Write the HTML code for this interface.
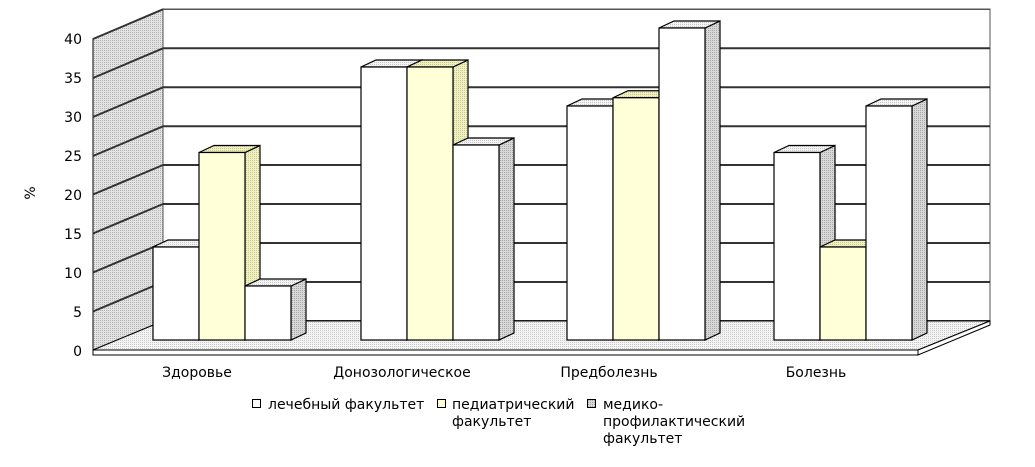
<!DOCTYPE html>
<html><head><meta charset="utf-8"><style>
html,body{margin:0;padding:0;background:#fff}
svg{display:block}
text{font-family:"DejaVu Sans","Liberation Sans",sans-serif;font-size:14px;fill:#000}
</style></head><body>
<svg width="1035" height="467" viewBox="0 0 1035 467" xmlns="http://www.w3.org/2000/svg">
<defs>
<pattern id="hg" width="2" height="2" patternUnits="userSpaceOnUse"><rect width="2" height="2" fill="#e4e4e4"/><rect width="1" height="1" fill="#b0b0b0"/></pattern>
<pattern id="hf" width="2" height="2" patternUnits="userSpaceOnUse"><rect width="2" height="2" fill="#f4f4f4"/><rect width="1" height="1" fill="#c8c8c8"/></pattern>
<pattern id="hs" width="2" height="2" patternUnits="userSpaceOnUse"><rect width="2" height="2" fill="#d8d8d8"/><rect width="1" height="1" fill="#a8a8a8"/></pattern>
<pattern id="hy" width="2" height="2" patternUnits="userSpaceOnUse"><rect width="2" height="2" fill="#f0f0c0"/><rect width="1" height="1" fill="#c8c890"/></pattern>
</defs>
<polygon points="93,39 163,9 163,321 93,350" fill="url(#hg)" stroke="#000" stroke-width="1"/>
<rect x="163" y="9" width="827" height="312" fill="#fff" stroke="#555" stroke-width="1"/>
<g stroke="#333" stroke-width="2">
<line x1="93" y1="39" x2="163" y2="9.3"/><line x1="163" y1="9.3" x2="990" y2="9.3" stroke="#555" stroke-width="1.5"/>
<line x1="93" y1="78" x2="163" y2="48.3"/><line x1="163" y1="48.3" x2="990" y2="48.3"/>
<line x1="93" y1="117" x2="163" y2="87.3"/><line x1="163" y1="87.3" x2="990" y2="87.3"/>
<line x1="93" y1="156" x2="163" y2="126.3"/><line x1="163" y1="126.3" x2="990" y2="126.3"/>
<line x1="93" y1="194.5" x2="163" y2="165"/><line x1="163" y1="165" x2="990" y2="165"/>
<line x1="93" y1="233.5" x2="163" y2="204"/><line x1="163" y1="204" x2="990" y2="204"/>
<line x1="93" y1="272.5" x2="163" y2="243"/><line x1="163" y1="243" x2="990" y2="243"/>
<line x1="93" y1="311.5" x2="163" y2="282"/><line x1="163" y1="282" x2="990" y2="282"/>
<line x1="163" y1="321" x2="990" y2="321"/>
</g>
<polygon points="93,350 163,321 990,321 918,350" fill="url(#hf)" stroke="#000" stroke-width="1"/>
<rect x="93" y="350" width="825" height="5" fill="#fff" stroke="#000" stroke-width="1"/>
<polygon points="918,350 990,321 990,325 918,355" fill="#fff" stroke="#000" stroke-width="1"/>
<g stroke="#000" stroke-width="1.2" id="bars"></g>
<g text-anchor="end">
<text x="82" y="44">40</text><text x="82" y="83">35</text><text x="82" y="122">30</text><text x="82" y="161">25</text>
<text x="82" y="200">20</text><text x="82" y="239">15</text><text x="82" y="278">10</text><text x="82" y="317">5</text><text x="82" y="356">0</text>
</g>
<text transform="translate(35,193) rotate(-90)" text-anchor="middle">%</text>
<g text-anchor="middle">
<text x="197" y="377">Здоровье</text><text x="402" y="377">Донозологическое</text>
<text x="609" y="377">Предболезнь</text><text x="816" y="377">Болезнь</text>
</g>
<rect x="252.5" y="399.5" width="8" height="8" fill="#fff" stroke="#000"/>
<text x="268" y="409">лечебный факультет</text>
<rect x="437.5" y="399.5" width="8" height="8" fill="#ffffd8" stroke="#000"/>
<text x="452" y="409">педиатрический</text><text x="452" y="426">факультет</text>
<rect x="587.5" y="399.5" width="8" height="8" fill="url(#hs)" stroke="#000"/>
<text x="603" y="409">медико-</text><text x="603" y="426">профилактический</text><text x="603" y="443">факультет</text>
</svg>
<script>
var data=[[153,12.4,0],[199,25,1],[245,7.2,2],[361,36.4,0],[407,36.4,1],[453,26,2],[567,31.2,0],[613,32.3,1],[659,41.6,2],[774,25,0],[820,12.4,1],[866,31.2,2]];
var g=document.getElementById('bars'),s='';
data.forEach(function(d){var x=d[0],t=340-d[1]*7.5,k=d[2];
var front=k==1?'#ffffd8':'#fff',top=k==1?'url(#hy)':'url(#hf)',side=k==1?'url(#hy)':'url(#hs)';
s+='<polygon points="'+(x+46)+','+t+' '+(x+61)+','+(t-7)+' '+(x+61)+',333 '+(x+46)+',340" fill="'+side+'"/>';
s+='<polygon points="'+x+','+t+' '+(x+15)+','+(t-7)+' '+(x+61)+','+(t-7)+' '+(x+46)+','+t+'" fill="'+top+'"/>';
s+='<rect x="'+x+'" y="'+t+'" width="46" height="'+(340-t)+'" fill="'+front+'"/>';});
g.innerHTML=s;
</script>
</body></html>
